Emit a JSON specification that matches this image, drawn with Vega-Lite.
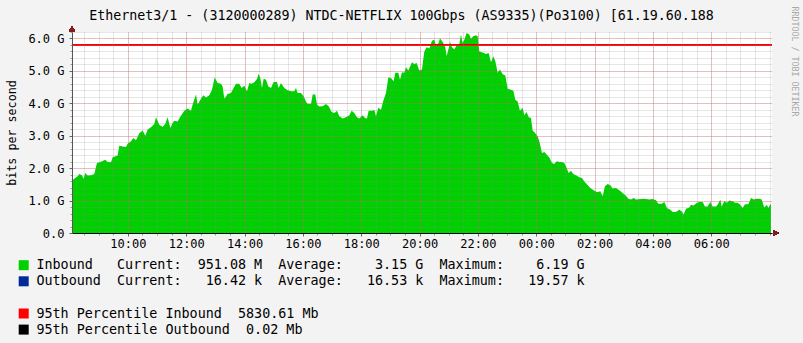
{
  "$schema": "https://vega.github.io/schema/vega-lite/v6.json",
  "width": 700,
  "height": 201,
  "autosize": {"type": "none"},
  "padding": {"left": 72, "top": 32, "right": 31, "bottom": 110},
  "background": "#F3F3F3",
  "config": {
    "view": {"stroke": null, "fill": "#FFFFFF"},
    "axis": {"labelFont": "DejaVu Sans Mono", "titleFont": "DejaVu Sans Mono", "labelColor": "#000000", "titleColor": "#000000", "titleFontWeight": "normal"}
  },
  "data": {"values": [
    {"h": 8.083, "v": 1.62}, {"h": 8.162, "v": 1.67}, {"h": 8.277, "v": 1.75}, {"h": 8.334, "v": 1.82}, {"h": 8.425, "v": 1.78},
    {"h": 8.482, "v": 1.67}, {"h": 8.539, "v": 1.85}, {"h": 8.619, "v": 1.77}, {"h": 8.734, "v": 1.78}, {"h": 8.848, "v": 1.82},
    {"h": 8.939, "v": 2.16}, {"h": 9.077, "v": 2.20}, {"h": 9.225, "v": 2.26}, {"h": 9.305, "v": 2.19}, {"h": 9.419, "v": 2.18},
    {"h": 9.477, "v": 2.34}, {"h": 9.648, "v": 2.39}, {"h": 9.705, "v": 2.69}, {"h": 9.819, "v": 2.67}, {"h": 9.934, "v": 2.65},
    {"h": 9.991, "v": 2.75}, {"h": 10.105, "v": 2.83}, {"h": 10.185, "v": 2.93}, {"h": 10.277, "v": 2.86}, {"h": 10.391, "v": 3.08},
    {"h": 10.505, "v": 3.16}, {"h": 10.597, "v": 3.00}, {"h": 10.677, "v": 3.19}, {"h": 10.791, "v": 3.26}, {"h": 10.905, "v": 3.36},
    {"h": 10.962, "v": 3.57}, {"h": 11.077, "v": 3.34}, {"h": 11.191, "v": 3.27}, {"h": 11.282, "v": 3.37}, {"h": 11.362, "v": 3.57},
    {"h": 11.454, "v": 3.24}, {"h": 11.534, "v": 3.39}, {"h": 11.591, "v": 3.46}, {"h": 11.705, "v": 3.44}, {"h": 11.785, "v": 3.57},
    {"h": 11.934, "v": 3.77}, {"h": 12.048, "v": 3.84}, {"h": 12.162, "v": 3.77}, {"h": 12.219, "v": 3.96}, {"h": 12.334, "v": 4.27},
    {"h": 12.391, "v": 3.96}, {"h": 12.505, "v": 4.14}, {"h": 12.585, "v": 4.25}, {"h": 12.677, "v": 4.18}, {"h": 12.791, "v": 4.25},
    {"h": 12.882, "v": 4.42}, {"h": 12.974, "v": 4.80}, {"h": 13.077, "v": 4.63}, {"h": 13.191, "v": 4.60}, {"h": 13.248, "v": 4.52},
    {"h": 13.305, "v": 4.14}, {"h": 13.419, "v": 4.29}, {"h": 13.534, "v": 4.32}, {"h": 13.591, "v": 4.42}, {"h": 13.705, "v": 4.60},
    {"h": 13.819, "v": 4.60}, {"h": 13.899, "v": 4.47}, {"h": 13.991, "v": 4.54}, {"h": 14.082, "v": 4.37}, {"h": 14.162, "v": 4.63},
    {"h": 14.242, "v": 4.60}, {"h": 14.334, "v": 4.65}, {"h": 14.425, "v": 4.75}, {"h": 14.482, "v": 4.91}, {"h": 14.539, "v": 4.78},
    {"h": 14.597, "v": 4.47}, {"h": 14.654, "v": 4.76}, {"h": 14.734, "v": 4.73}, {"h": 14.814, "v": 4.52}, {"h": 14.905, "v": 4.47},
    {"h": 14.997, "v": 4.66}, {"h": 15.111, "v": 4.66}, {"h": 15.168, "v": 4.47}, {"h": 15.248, "v": 4.63}, {"h": 15.362, "v": 4.47},
    {"h": 15.477, "v": 4.40}, {"h": 15.591, "v": 4.37}, {"h": 15.705, "v": 4.37}, {"h": 15.762, "v": 4.47}, {"h": 15.819, "v": 4.32},
    {"h": 15.934, "v": 4.32}, {"h": 16.025, "v": 4.22}, {"h": 16.105, "v": 4.06}, {"h": 16.162, "v": 3.98}, {"h": 16.277, "v": 3.98},
    {"h": 16.334, "v": 4.27}, {"h": 16.425, "v": 4.27}, {"h": 16.482, "v": 3.96}, {"h": 16.562, "v": 3.90}, {"h": 16.677, "v": 3.91},
    {"h": 16.791, "v": 3.98}, {"h": 16.882, "v": 3.91}, {"h": 16.985, "v": 3.73}, {"h": 17.077, "v": 3.70}, {"h": 17.168, "v": 3.77},
    {"h": 17.248, "v": 3.60}, {"h": 17.362, "v": 3.53}, {"h": 17.477, "v": 3.57}, {"h": 17.591, "v": 3.63}, {"h": 17.671, "v": 3.77},
    {"h": 17.762, "v": 3.70}, {"h": 17.854, "v": 3.57}, {"h": 17.934, "v": 3.53}, {"h": 18.048, "v": 3.63}, {"h": 18.128, "v": 3.55},
    {"h": 18.197, "v": 3.53}, {"h": 18.254, "v": 3.77}, {"h": 18.391, "v": 3.77}, {"h": 18.448, "v": 3.80}, {"h": 18.505, "v": 3.60},
    {"h": 18.585, "v": 3.86}, {"h": 18.677, "v": 3.80}, {"h": 18.757, "v": 4.08}, {"h": 18.848, "v": 4.32}, {"h": 18.928, "v": 4.80},
    {"h": 19.019, "v": 4.78}, {"h": 19.111, "v": 4.68}, {"h": 19.168, "v": 4.94}, {"h": 19.271, "v": 4.94}, {"h": 19.328, "v": 4.73},
    {"h": 19.397, "v": 4.96}, {"h": 19.477, "v": 4.94}, {"h": 19.534, "v": 5.11}, {"h": 19.614, "v": 5.01}, {"h": 19.739, "v": 5.27},
    {"h": 19.819, "v": 5.21}, {"h": 19.899, "v": 5.24}, {"h": 19.991, "v": 5.01}, {"h": 20.082, "v": 5.04}, {"h": 20.162, "v": 5.60},
    {"h": 20.242, "v": 5.73}, {"h": 20.334, "v": 5.69}, {"h": 20.425, "v": 5.93}, {"h": 20.505, "v": 5.96}, {"h": 20.562, "v": 5.79},
    {"h": 20.654, "v": 5.86}, {"h": 20.699, "v": 6.01}, {"h": 20.791, "v": 5.89}, {"h": 20.882, "v": 5.73}, {"h": 20.928, "v": 5.45},
    {"h": 20.997, "v": 5.70}, {"h": 21.042, "v": 5.91}, {"h": 21.111, "v": 5.73}, {"h": 21.191, "v": 5.66}, {"h": 21.271, "v": 5.79},
    {"h": 21.362, "v": 5.83}, {"h": 21.419, "v": 6.12}, {"h": 21.477, "v": 5.86}, {"h": 21.534, "v": 5.96}, {"h": 21.614, "v": 6.17},
    {"h": 21.705, "v": 6.12}, {"h": 21.762, "v": 5.99}, {"h": 21.842, "v": 6.07}, {"h": 21.934, "v": 6.10}, {"h": 21.991, "v": 6.07},
    {"h": 22.048, "v": 5.60}, {"h": 22.162, "v": 5.57}, {"h": 22.277, "v": 5.52}, {"h": 22.368, "v": 5.55}, {"h": 22.448, "v": 5.27},
    {"h": 22.528, "v": 5.45}, {"h": 22.597, "v": 5.30}, {"h": 22.677, "v": 4.94}, {"h": 22.757, "v": 5.04}, {"h": 22.848, "v": 4.90},
    {"h": 22.939, "v": 4.86}, {"h": 23.019, "v": 4.45}, {"h": 23.134, "v": 4.42}, {"h": 23.214, "v": 4.39}, {"h": 23.282, "v": 4.11},
    {"h": 23.362, "v": 4.06}, {"h": 23.442, "v": 3.77}, {"h": 23.534, "v": 3.86}, {"h": 23.591, "v": 3.63}, {"h": 23.671, "v": 3.73},
    {"h": 23.739, "v": 3.57}, {"h": 23.819, "v": 3.55}, {"h": 23.877, "v": 3.16}, {"h": 23.968, "v": 3.08}, {"h": 24.048, "v": 2.98},
    {"h": 24.105, "v": 2.83}, {"h": 24.197, "v": 2.47}, {"h": 24.277, "v": 2.50}, {"h": 24.357, "v": 2.42}, {"h": 24.448, "v": 2.33},
    {"h": 24.539, "v": 2.16}, {"h": 24.619, "v": 2.13}, {"h": 24.699, "v": 2.21}, {"h": 24.791, "v": 2.19}, {"h": 24.882, "v": 2.19},
    {"h": 24.962, "v": 2.16}, {"h": 25.019, "v": 2.06}, {"h": 25.111, "v": 1.85}, {"h": 25.191, "v": 1.92}, {"h": 25.271, "v": 1.82},
    {"h": 25.362, "v": 1.78}, {"h": 25.477, "v": 1.72}, {"h": 25.568, "v": 1.70}, {"h": 25.648, "v": 1.59}, {"h": 25.728, "v": 1.51},
    {"h": 25.854, "v": 1.39}, {"h": 25.968, "v": 1.32}, {"h": 26.082, "v": 1.26}, {"h": 26.197, "v": 1.29}, {"h": 26.277, "v": 1.13},
    {"h": 26.357, "v": 1.44}, {"h": 26.448, "v": 1.51}, {"h": 26.539, "v": 1.47}, {"h": 26.619, "v": 1.37}, {"h": 26.734, "v": 1.39},
    {"h": 26.848, "v": 1.32}, {"h": 26.962, "v": 1.23}, {"h": 27.077, "v": 1.15}, {"h": 27.157, "v": 1.06}, {"h": 27.248, "v": 1.03},
    {"h": 27.339, "v": 1.08}, {"h": 27.419, "v": 1.03}, {"h": 27.591, "v": 1.05}, {"h": 27.705, "v": 1.06}, {"h": 27.877, "v": 1.03},
    {"h": 27.991, "v": 1.05}, {"h": 28.105, "v": 1.01}, {"h": 28.185, "v": 0.90}, {"h": 28.299, "v": 0.90}, {"h": 28.391, "v": 0.96},
    {"h": 28.482, "v": 0.77}, {"h": 28.597, "v": 0.72}, {"h": 28.677, "v": 0.65}, {"h": 28.791, "v": 0.65}, {"h": 28.905, "v": 0.72},
    {"h": 28.985, "v": 0.67}, {"h": 29.054, "v": 0.57}, {"h": 29.134, "v": 0.75}, {"h": 29.248, "v": 0.79}, {"h": 29.305, "v": 0.87},
    {"h": 29.397, "v": 0.85}, {"h": 29.511, "v": 0.93}, {"h": 29.591, "v": 0.96}, {"h": 29.705, "v": 0.96}, {"h": 29.785, "v": 0.82},
    {"h": 29.877, "v": 0.82}, {"h": 29.968, "v": 0.96}, {"h": 30.048, "v": 0.82}, {"h": 30.162, "v": 0.82}, {"h": 30.219, "v": 0.87},
    {"h": 30.311, "v": 1.03}, {"h": 30.357, "v": 0.82}, {"h": 30.448, "v": 0.98}, {"h": 30.539, "v": 0.93}, {"h": 30.619, "v": 1.00},
    {"h": 30.734, "v": 0.98}, {"h": 30.814, "v": 0.93}, {"h": 30.905, "v": 0.93}, {"h": 30.997, "v": 0.87}, {"h": 31.077, "v": 0.77},
    {"h": 31.157, "v": 0.89}, {"h": 31.271, "v": 0.89}, {"h": 31.362, "v": 1.08}, {"h": 31.454, "v": 1.03}, {"h": 31.534, "v": 1.06},
    {"h": 31.648, "v": 1.06}, {"h": 31.728, "v": 1.03}, {"h": 31.819, "v": 0.79}, {"h": 31.911, "v": 0.87}, {"h": 31.957, "v": 0.77},
    {"h": 32.025, "v": 0.89}, {"h": 32.048, "v": 0.89}
  ]},
  "layer": [
    {
      "mark": {"type": "area", "opacity": 1},
      "encoding": {
        "x": {"field": "h", "type": "quantitative",
          "scale": {"domain": [8.083, 32.083], "nice": false, "zero": false},
          "axis": {"orient": "bottom", "values": [8.5,9,9.5,10,10.5,11,11.5,12,12.5,13,13.5,14,14.5,15,15.5,16,16.5,17,17.5,18,18.5,19,19.5,20,20.5,21,21.5,22,22.5,23,23.5,24,24.5,25,25.5,26,26.5,27,27.5,28,28.5,29,29.5,30,30.5,31,31.5,32],
            "labels": false, "domain": false, "ticks": true, "tickSize": 2, "tickColor": "#999999",
            "grid": true, "gridColor": "#8F8F8F", "gridOpacity": 0.45, "gridDash": [1, 1], "title": null, "zindex": 1}},
        "y": {"field": "v", "type": "quantitative",
          "scale": {"domain": [0, 6.2], "nice": false},
          "axis": {"orient": "left", "values": [0.2,0.4,0.6,0.8,1,1.2,1.4,1.6,1.8,2,2.2,2.4,2.6,2.8,3,3.2,3.4,3.6,3.8,4,4.2,4.4,4.6,4.8,5,5.2,5.4,5.6,5.8,6,6.2],
            "labels": false, "domain": false, "ticks": true, "tickSize": 2, "tickColor": "#999999",
            "grid": true, "gridColor": "#8F8F8F", "gridOpacity": 0.45, "gridDash": [1, 1], "title": null, "zindex": 1}},
        "color": {
          "datum": "Inbound\u00a0\u00a0\u00a0Current:\u00a0\u00a0951.08 M\u00a0\u00a0Average:\u00a0\u00a0\u00a0\u00a03.15 G\u00a0\u00a0Maximum:\u00a0\u00a0\u00a0\u00a06.19 G",
          "type": "nominal",
          "scale": {
            "domain": [
              "Inbound\u00a0\u00a0\u00a0Current:\u00a0\u00a0951.08 M\u00a0\u00a0Average:\u00a0\u00a0\u00a0\u00a03.15 G\u00a0\u00a0Maximum:\u00a0\u00a0\u00a0\u00a06.19 G",
              "Outbound\u00a0\u00a0Current:\u00a0\u00a0\u00a016.42 k\u00a0\u00a0Average:\u00a0\u00a0\u00a016.53 k\u00a0\u00a0Maximum:\u00a0\u00a0\u00a019.57 k",
              "\u00a0",
              "95th Percentile Inbound\u00a0\u00a05830.61 Mb",
              "95th Percentile Outbound\u00a0\u00a00.02 Mb"
            ],
            "range": ["#00CF00", "#002A97", "transparent", "#FF0000", "#000000"]
          },
          "legend": {
            "orient": "none", "legendX": -55, "legendY": 226.5, "direction": "vertical", "title": null,
            "symbolType": "square", "symbolSize": 100, "symbolStrokeWidth": 1,
            "labelFont": "DejaVu Sans Mono", "labelFontSize": 13.4, "labelColor": "#000000", "labelLimit": 1000,
            "labelOffset": 6, "rowPadding": 1.1, "padding": 0,
            "encode": {"symbols": {"update": {"stroke": {"signal": "length(datum.value) < 2 ? 'transparent' : '#333333'"}, "opacity": {"value": 1}}}}
          }
        }
      }
    },
    {
      "mark": {"type": "rule", "color": "#FF0000", "strokeWidth": 1, "yOffset": 1.5},
      "encoding": {
        "y": {"datum": 5.8306, "type": "quantitative", "scale": {"domain": [0, 6.2], "nice": false},
          "axis": {"orient": "right", "labels": false, "ticks": false, "domain": false, "grid": false,
            "title": "RRDTOOL / TOBI OETIKER", "titleAngle": 90, "titleAlign": "left", "titleBaseline": "middle",
            "titleX": 21, "titleY": -26, "titleFontSize": 8.3, "titleColor": "#A8A8A8", "titleLimit": 1000}}
      }
    },
    {
      "mark": {"type": "point", "shape": "triangle-right", "filled": true, "color": "#7F1F1F", "size": 36, "opacity": 1},
      "encoding": {
        "x": {"datum": 32.206, "type": "quantitative", "scale": {"domain": [8.083, 32.083], "nice": false, "zero": false},
          "axis": {"orient": "bottom", "values": [10,12,14,16,18,20,22,24,26,28,30],
            "labelExpr": "format(datum.value % 24, '02d') + ':00'", "labelFontSize": 12, "labelPadding": 2,
            "labelFlush": false, "labelOverlap": false,
            "tickSize": 3, "tickColor": "#666666", "domainColor": "#000000",
            "grid": true, "gridColor": "#DE5050", "gridOpacity": 0.5, "gridDash": [1, 1], "title": null, "zindex": 1}},
        "y": {"datum": 0, "type": "quantitative", "scale": {"domain": [0, 6.2], "nice": false},
          "axis": {"orient": "left", "values": [0,1,2,3,4,5,6],
            "labelExpr": "datum.value == 0 ? '0.0' : format(datum.value, '.1f') + ' G'", "labelFontSize": 12, "labelPadding": 5,
            "tickSize": 3, "tickColor": "#666666", "domainColor": "#555555",
            "grid": true, "gridColor": "#DE5050", "gridOpacity": 0.5, "gridDash": [1, 1],
            "title": "bits per second", "titleFontSize": 11.7, "titleX": -61, "titleBaseline": "middle", "titleAlign": "center", "zindex": 1}}
      }
    },
    {
      "mark": {"type": "point", "shape": "triangle-up", "filled": true, "color": "#7F1F1F", "size": 36, "opacity": 1},
      "encoding": {
        "x": {"datum": 8.083, "type": "quantitative", "scale": {"domain": [8.083, 32.083], "nice": false, "zero": false},
          "axis": {"orient": "top", "labels": false, "ticks": false, "domain": false, "grid": false,
            "title": "Ethernet3/1 - (3120000289) NTDC-NETFLIX 100Gbps (AS9335)(Po3100) [61.19.60.188",
            "titleX": 329, "titleY": -13, "titleAlign": "center", "titleBaseline": "alphabetic", "titleFontSize": 13.3, "titleLimit": 1000}},
        "y": {"datum": 6.3, "type": "quantitative", "scale": {"domain": [0, 6.2], "nice": false}, "axis": null}
      }
    }
  ],
  "resolve": {"axis": {"x": "independent", "y": "independent"}}
}
